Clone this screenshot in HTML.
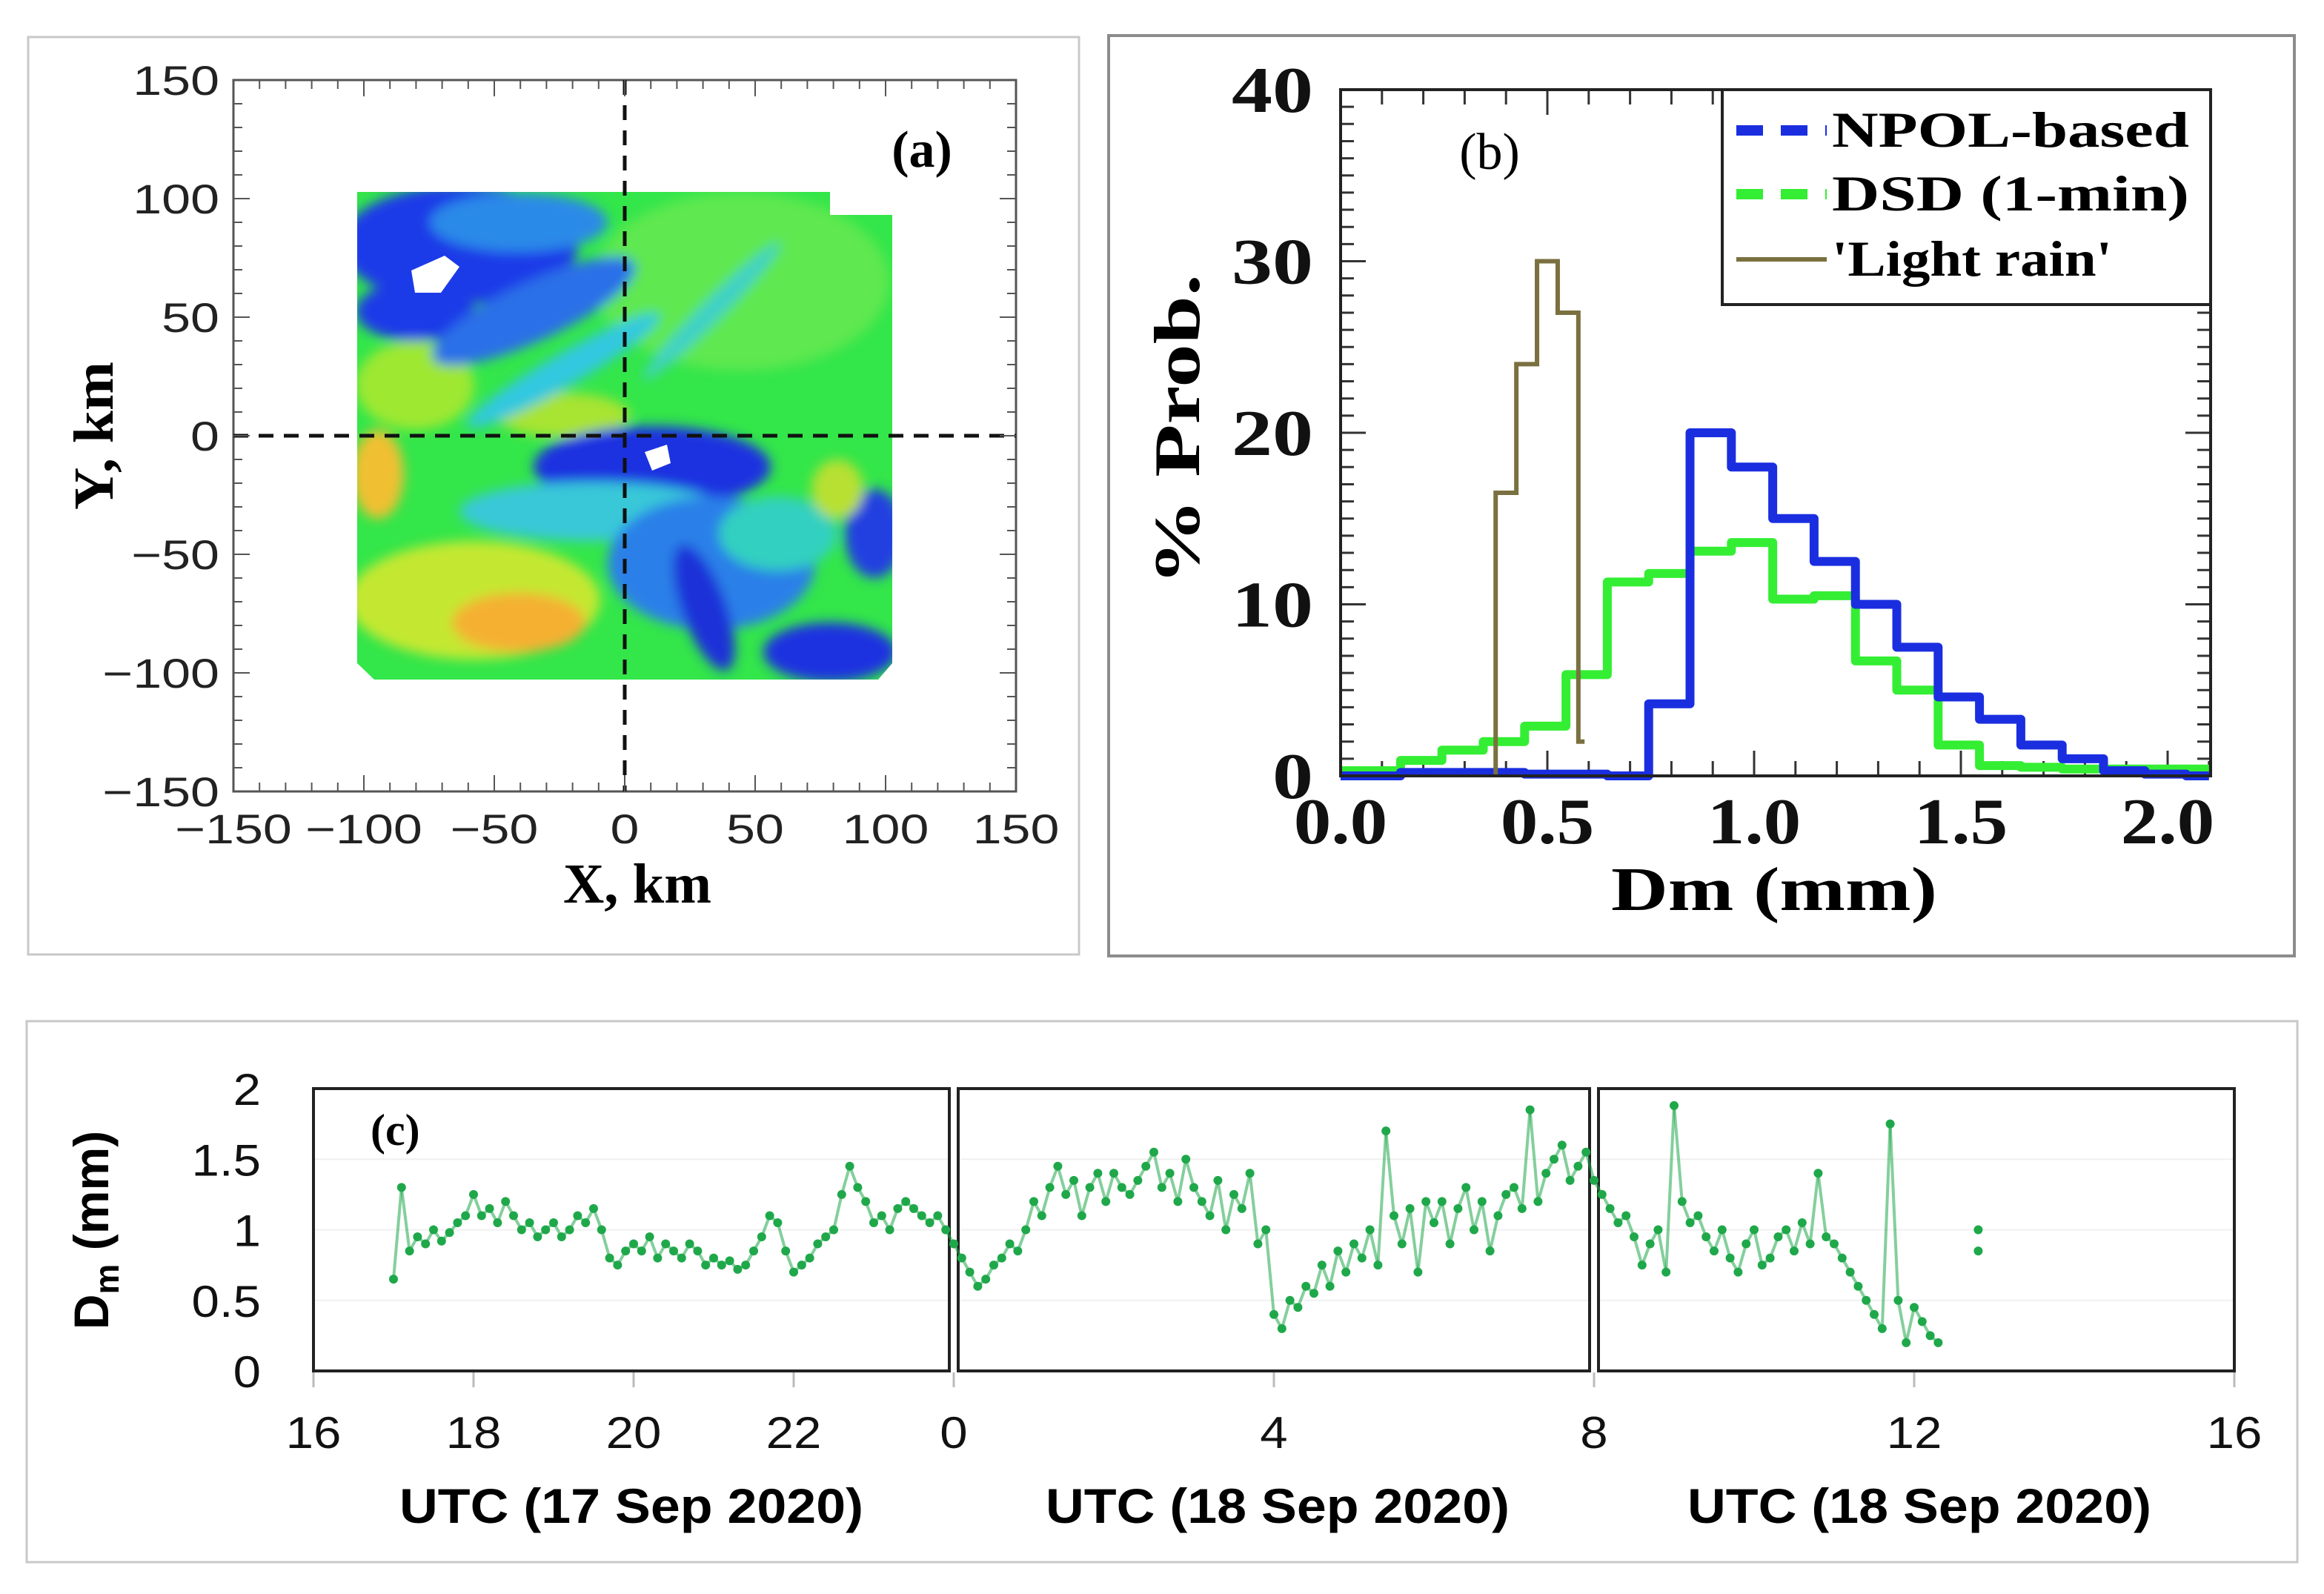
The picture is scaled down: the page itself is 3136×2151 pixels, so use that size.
<!DOCTYPE html>
<html><head><meta charset="utf-8"><style>
html,body{margin:0;padding:0;background:#fff;}
svg{display:block;}
.ser{font-family:"Liberation Serif",serif;font-weight:bold;}
.san{font-family:"Liberation Sans",sans-serif;}
</style></head><body>
<svg id="fig" width="3136" height="2151" viewBox="0 0 3136 2151" xmlns="http://www.w3.org/2000/svg">
<defs>
<filter id="bl" x="-20%" y="-20%" width="140%" height="140%"><feGaussianBlur stdDeviation="8"/></filter>
<clipPath id="radarClip"><path d="M482,259 L1120,259 L1120,290 L1204,290 L1204,895 L1185,917 L505,917 L482,895 Z"/></clipPath>
</defs>
<rect x="38" y="50" width="1418" height="1238" fill="none" stroke="#c8c8c8" stroke-width="3"/>
<rect x="1496" y="48" width="1600" height="1242" fill="none" stroke="#8c8c8c" stroke-width="4"/>
<rect x="36" y="1378" width="3064" height="730" fill="none" stroke="#c8c8c8" stroke-width="3"/>

<g id="panelA">
<g clip-path="url(#radarClip)">
<rect x="470" y="250" width="750" height="680" fill="#33e64a"/>
<g filter="url(#bl)">
<ellipse cx="1000" cy="380" rx="200" ry="120" fill="#5ee850"/>
<ellipse cx="560" cy="520" rx="80" ry="60" fill="#9ee830"/>
<ellipse cx="640" cy="810" rx="170" ry="80" fill="#c4e830"/>
<ellipse cx="700" cy="840" rx="90" ry="40" fill="#f5b030"/>
<ellipse cx="510" cy="640" rx="35" ry="60" fill="#f0c030"/>
<ellipse cx="760" cy="560" rx="90" ry="30" fill="#a8e430"/>
<ellipse cx="620" cy="330" rx="160" ry="80" fill="#1a3ae8"/>
<ellipse cx="560" cy="420" rx="80" ry="40" fill="#1a3ae8"/>
<ellipse cx="720" cy="420" rx="150" ry="40" fill="#2a70e8" transform="rotate(-25 720 420)"/>
<ellipse cx="760" cy="500" rx="150" ry="22" fill="#30c8e0" transform="rotate(-30 760 500)"/>
<ellipse cx="700" cy="300" rx="120" ry="40" fill="#2a8ae8"/>
<ellipse cx="960" cy="420" rx="130" ry="14" fill="#40d0c8" transform="rotate(-45 960 420)"/>
<ellipse cx="880" cy="630" rx="160" ry="55" fill="#1a30e0"/>
<ellipse cx="800" cy="690" rx="180" ry="40" fill="#38c8d8"/>
<ellipse cx="960" cy="760" rx="140" ry="90" fill="#2a80e8"/>
<ellipse cx="950" cy="820" rx="30" ry="90" fill="#1a30d8" transform="rotate(-20 950 820)"/>
<ellipse cx="1120" cy="880" rx="90" ry="40" fill="#1a30e0"/>
<ellipse cx="1180" cy="720" rx="40" ry="60" fill="#2040e0"/>
<ellipse cx="1050" cy="720" rx="80" ry="50" fill="#30d0c0"/>
<ellipse cx="1130" cy="660" rx="35" ry="40" fill="#b8e030"/>
</g>
<path d="M555,365 L600,345 L620,360 L595,395 L560,395 Z" fill="#fff"/>
<path d="M870,610 L900,600 L905,625 L880,635 Z" fill="#fff"/>
</g>
<rect x="315" y="108" width="1056" height="960" fill="none" stroke="#555" stroke-width="3"/>
<line x1="843" y1="108" x2="843" y2="1068" stroke="#111" stroke-width="5" stroke-dasharray="20,14"/>
<line x1="315" y1="588" x2="1371" y2="588" stroke="#111" stroke-width="5" stroke-dasharray="20,14"/>
<g id="aTicks" stroke="#555" stroke-width="2"></g>
<g id="aLabels" class="san" font-size="56" fill="#222"></g>
<text x="1244" y="225" class="ser" font-size="70" text-anchor="middle">(a)</text>
<text x="860" y="1218" class="ser" font-size="76" text-anchor="middle" textLength="200" lengthAdjust="spacingAndGlyphs">X, km</text>
<text transform="translate(152,588) rotate(-90)" class="ser" font-size="76" text-anchor="middle" textLength="200" lengthAdjust="spacingAndGlyphs">Y, km</text>
</g>

<g id="panelB">
<g id="bTicks" stroke="#333" stroke-width="3"></g>
<g id="bSeries"></g>
<rect x="1809" y="121" width="1174" height="926" fill="none" stroke="#222" stroke-width="4"/>
<g id="bLabels" class="ser" font-size="88" fill="#111"></g>
<text x="2010" y="228" font-family="Liberation Serif,serif" font-size="70" text-anchor="middle">(b)</text>
<text x="2394" y="1228" class="ser" font-size="84" text-anchor="middle" textLength="440" lengthAdjust="spacingAndGlyphs">Dm (mm)</text>
<text transform="translate(1618,580) rotate(-90)" class="ser" font-size="88" text-anchor="middle" textLength="420" lengthAdjust="spacingAndGlyphs">% Prob.</text>
<g>
<rect x="2324" y="121" width="659" height="290" fill="#fff" stroke="#222" stroke-width="4"/>
<line x1="2343" y1="176" x2="2465" y2="176" stroke="#1a2ee0" stroke-width="14" stroke-dasharray="36,24"/>
<text x="2472" y="198" class="ser" font-size="68" textLength="482" lengthAdjust="spacingAndGlyphs">NPOL-based</text>
<line x1="2343" y1="262" x2="2465" y2="262" stroke="#33ee33" stroke-width="14" stroke-dasharray="36,24"/>
<text x="2472" y="284" class="ser" font-size="68" textLength="482" lengthAdjust="spacingAndGlyphs">DSD (1-min)</text>
<line x1="2343" y1="350" x2="2465" y2="350" stroke="#7a7040" stroke-width="6"/>
<text x="2472" y="372" class="ser" font-size="68" textLength="378" lengthAdjust="spacingAndGlyphs">'Light rain'</text>
</g>
</g>

<g id="panelC">
<g id="cBoxes"></g>
<g id="cPoints"></g>
<g id="cLabels" class="san" font-size="60" fill="#111"></g>
<text x="500" y="1545" class="ser" font-size="60">(c)</text>
<text transform="translate(146,1660) rotate(-90)" class="san" font-size="66" font-weight="bold" text-anchor="middle">D<tspan font-size="46" dy="14">m</tspan><tspan dy="-14"> (mm)</tspan></text>
<text x="852" y="2055" class="san" font-size="66" font-weight="bold" text-anchor="middle" textLength="626" lengthAdjust="spacingAndGlyphs">UTC (17 Sep 2020)</text>
<text x="1724" y="2055" class="san" font-size="66" font-weight="bold" text-anchor="middle" textLength="626" lengthAdjust="spacingAndGlyphs">UTC (18 Sep 2020)</text>
<text x="2590" y="2055" class="san" font-size="66" font-weight="bold" text-anchor="middle" textLength="626" lengthAdjust="spacingAndGlyphs">UTC (18 Sep 2020)</text>
</g>
</svg>
<script>
const aMajorTicks = [-150,-100,-50,0,50,100,150];
const aTickLabels = ["\u2212150","\u2212100","\u221250","0","50","100","150"];
const bXTicks = [0.0,0.5,1.0,1.5,2.0];
const bXTickLabels = ["0.0","0.5","1.0","1.5","2.0"];
const bYTicks = [0,10,20,30,40];
const bYTickLabels = ["0","10","20","30","40"];
const npolEdges = [0,0.045,0.145,0.245,0.345,0.445,0.545,0.645,0.745,0.845,0.945,1.045,1.145,1.245,1.345,1.445,1.545,1.645,1.745,1.845,1.945,2.045,2.1];
const npolValues = [0,0,0.2,0.2,0.2,0.1,0.1,0,4.2,20,18,15,12.5,10,7.5,4.6,3.3,1.8,1.0,0.3,0.1,0];
const dsdEdges = [0,0.045,0.145,0.245,0.345,0.445,0.545,0.645,0.745,0.845,0.945,1.045,1.145,1.245,1.345,1.445,1.545,1.645,1.745,1.845,1.945,2.045,2.1];
const dsdValues = [0.3,0.3,0.9,1.5,2.0,2.9,5.9,11.3,11.8,13.1,13.6,10.3,10.5,6.7,5.0,1.8,0.6,0.5,0.4,0.4,0.4,0.4];
const lightEdges = [0.375,0.425,0.475,0.525,0.575,0.59];
const lightValues = [16.5,24,30,27,2];
const cXTicks = [0,2,4,6,8,12,16,20,24];
const cXTickLabels = ["16","18","20","22","0","4","8","12","16"];
const cYTicks = [0,0.5,1,1.5,2];
const cYTickLabels = ["0","0.5","1","1.5","2"];
const dmStartHour = 1.0;
const dmStepHour = 0.1;
const dmValues = [
0.65,1.3,0.85,0.95,0.9,1.0,0.92,0.98,1.05,1.1,
1.25,1.1,1.15,1.05,1.2,1.1,1.0,1.05,0.95,1.0,
1.05,0.95,1.0,1.1,1.05,1.15,1.0,0.8,0.75,0.85,
0.9,0.85,0.95,0.8,0.9,0.85,0.8,0.9,0.85,0.75,
0.8,0.75,0.78,0.72,0.75,0.85,0.95,1.1,1.05,0.85,
0.7,0.75,0.8,0.9,0.95,1.0,1.25,1.45,1.3,1.2,
1.05,1.1,1.0,1.15,1.2,1.15,1.1,1.05,1.1,1.0,
0.9,0.8,0.7,0.6,0.65,0.75,0.8,0.9,0.85,1.0,
1.2,1.1,1.3,1.45,1.25,1.35,1.1,1.3,1.4,1.2,
1.4,1.3,1.25,1.35,1.45,1.55,1.3,1.4,1.2,1.5,
1.3,1.2,1.1,1.35,1.0,1.25,1.15,1.4,0.9,1.0,
0.4,0.3,0.5,0.45,0.6,0.55,0.75,0.6,0.85,0.7,
0.9,0.8,1.0,0.75,1.7,1.1,0.9,1.15,0.7,1.2,
1.05,1.2,0.9,1.15,1.3,1.0,1.2,0.85,1.1,1.25,
1.3,1.15,1.85,1.2,1.4,1.5,1.6,1.35,1.45,1.55,
1.35,1.25,1.15,1.05,1.1,0.95,0.75,0.9,1.0,0.7,
1.88,1.2,1.05,1.1,0.95,0.85,1.0,0.8,0.7,0.9,
1.0,0.75,0.8,0.95,1.0,0.85,1.05,0.9,1.4,0.95,
0.9,0.8,0.7,0.6,0.5,0.4,0.3,1.75,0.5,0.2,
0.45,0.35,0.25,0.2];
const dmExtraHours = [20.8,20.8];
const dmExtraValues = [1.0,0.85];

const NS = "http://www.w3.org/2000/svg";
function mk(tag, attrs, parent){const e=document.createElementNS(NS,tag);for(const k in attrs)e.setAttribute(k,attrs[k]);parent.appendChild(e);return e;}
function widen(t,f){const w=t.getComputedTextLength();t.setAttribute('textLength',w*f);t.setAttribute('lengthAdjust','spacingAndGlyphs');}

const ax = v => 843 + v*3.52;
const ay = v => 588 - v*3.2;
const aT = document.getElementById('aTicks');
for(let v=-150; v<=150; v+=10){
  const major = v%50===0; const L = major?22:12;
  let t=mk('line',{x1:ax(v),y1:1068,x2:ax(v),y2:1068-L},aT);
  
  
  t=mk('line',{x1:ax(v),y1:108,x2:ax(v),y2:108+L},aT);
  
  
  t=mk('line',{x1:315,y1:ay(v),x2:315+L,y2:ay(v)},aT);
  
  
  t=mk('line',{x1:1371,y1:ay(v),x2:1371-L,y2:ay(v)},aT);
  
  
}
const aL = document.getElementById('aLabels');
aMajorTicks.forEach((v,i)=>{
  let t=mk('text',{x:ax(v),y:1138,'text-anchor':'middle'},aL); t.textContent=aTickLabels[i];
  
  
  widen(t,1.25);
  t=mk('text',{x:296,y:ay(v)+20,'text-anchor':'end'},aL); t.textContent=aTickLabels[i];
  
  
  widen(t,1.25);
});

const bx = v => 1809 + v*558;
const by = v => 1047 - v*23.15;
const bT = document.getElementById('bTicks');
for(let k=0;k<=21;k++){
  const v=k*0.1; const major = k%5===0; const L = major?34:20;
  let t=mk('line',{x1:bx(v),y1:1047,x2:bx(v),y2:1047-L},bT);
  
  
  t=mk('line',{x1:bx(v),y1:121,x2:bx(v),y2:121+L},bT);
  
  
}
for(let v=0; v<=40; v+=1){
  const major = v%10===0; const L = major?34:18;
  let t=mk('line',{x1:1809,y1:by(v),x2:1809+L,y2:by(v)},bT);
  
  
  t=mk('line',{x1:2983,y1:by(v),x2:2983-L,y2:by(v)},bT);
  
  
}
const bL = document.getElementById('bLabels');
bXTicks.forEach((v,i)=>{
  const t=mk('text',{x:bx(v),y:1138,'text-anchor':'middle'},bL); t.textContent=bXTickLabels[i];
  
  
  widen(t,1.15);
});
bYTicks.forEach((v,i)=>{
  const t=mk('text',{x:1772,y:by(v)+30,'text-anchor':'end'},bL); t.textContent=bYTickLabels[i];
  
  
  widen(t,1.25);
});
function stepPath(edges, vals, startZero){
  let d = startZero ? 'M'+bx(edges[0])+','+by(0) : 'M'+bx(edges[0])+','+by(vals[0]);
  for(let i=0;i<vals.length;i++){
    d += ' L'+bx(edges[i])+','+by(vals[i])+' L'+bx(edges[i+1])+','+by(vals[i]);
  }
  return d;
}
const bS = document.getElementById('bSeries');
let p = mk('path',{d:stepPath(dsdEdges,dsdValues,false),fill:'none',stroke:'#33ee33','stroke-width':12,'stroke-linejoin':'round'},bS);


p = mk('path',{d:stepPath(npolEdges,npolValues,false),fill:'none',stroke:'#1a2ee0','stroke-width':12,'stroke-linejoin':'round'},bS);


p = mk('path',{d:stepPath(lightEdges,lightValues,true),fill:'none',stroke:'#7a7040','stroke-width':6},bS);



const cx = h => 423 + h*108;
const cy = v => 1850 - v*190.5;
const cB = document.getElementById('cBoxes');
[[0,8],[8,16],[16,24]].forEach((r,i)=>{
  const x1 = cx(r[0]) + (i>0?6:0), x2 = cx(r[1]) - (i<2?6:0);
  for(let k=1;k<=3;k++){
    const g=mk('line',{x1:x1,y1:cy(k*0.5),x2:x2,y2:cy(k*0.5),stroke:'#f0f0f0','stroke-width':2},cB);
    
    
  }
  const b=mk('rect',{x:x1,y:cy(2),width:x2-x1,height:cy(0)-cy(2),fill:'none',stroke:'#222','stroke-width':4},cB);
  
  
});
const cL = document.getElementById('cLabels');
cXTicks.forEach((v,i)=>{
  const tk=mk('line',{x1:cx(v),y1:1852,x2:cx(v),y2:1872,stroke:'#bbb','stroke-width':3},cB);
  
  
  const t=mk('text',{x:cx(v),y:1954,'text-anchor':'middle'},cL); t.textContent=cXTickLabels[i];
  
  
  widen(t,1.12);
});
cYTicks.forEach((v,i)=>{
  const t=mk('text',{x:352,y:cy(v)+22,'text-anchor':'end'},cL); t.textContent=cYTickLabels[i];
  
  
  widen(t,1.12);
});
const cP = document.getElementById('cPoints');
dmValues.forEach((v,i)=>{
  const h = dmStartHour + i*dmStepHour;
  if(i>0){
    const l=mk('line',{x1:cx(h-dmStepHour),y1:cy(dmValues[i-1]),x2:cx(h),y2:cy(v),stroke:'#1fa84a','stroke-width':4,'stroke-opacity':0.55},cP);
    
    
  }
  const c=mk('circle',{cx:cx(h),cy:cy(v),r:6,fill:'#1fa84a'},cP);
  
  
});
dmExtraValues.forEach((v,i)=>{
  const c=mk('circle',{cx:cx(dmExtraHours[i]),cy:cy(v),r:6,fill:'#1fa84a'},cP);
  
  
});
</script>
</body></html>
